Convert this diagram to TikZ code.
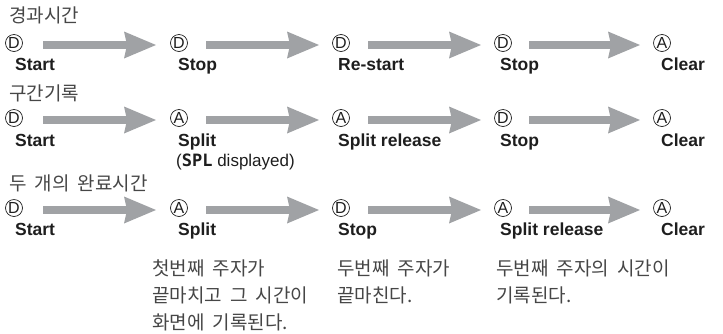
\documentclass[tikz,border=0pt]{standalone}
\usepackage{fontspec}
\setmainfont{Liberation Sans}
\newfontfamily\kr{Noto Sans CJK KR}
\newfontfamily\lcd{DejaVu Sans Mono}
\usetikzlibrary{arrows.meta}
\definecolor{arrgray}{RGB}{160,162,165}
\definecolor{txtgray}{RGB}{70,70,70}
\definecolor{lblblack}{RGB}{30,30,30}
\newcommand\krwide{\spaceskip=8pt\relax}
\begin{document}
\begin{tikzpicture}[x=1pt,y=1pt,
  state/.style={circle,draw=lblblack,line width=0.7pt,inner sep=0pt,minimum size=17pt,
    font=\fontsize{16}{16}\selectfont,text=lblblack},
  lbl/.style={anchor=base west,inner sep=0pt,font=\bfseries\fontsize{17.5}{17.5}\selectfont,text=lblblack},
  sub/.style={anchor=base west,inner sep=0pt,font=\fontsize{17}{17}\selectfont,text=lblblack},
  head/.style={anchor=base west,inner sep=0pt,font=\kr\fontsize{19}{19}\selectfont,
    execute at begin node=\krwide,text=txtgray},
  flow/.style={draw=arrgray,line width=7.5pt,-{Stealth[length=32pt,width=27pt,inset=3pt,line width=0pt]}}
]
\useasboundingbox (0,0) rectangle (723,-333);

% Row 1
\node[head] (h1) at (9,-22) {경과시간};
\node[state] (a1) at (14,-43) {D};
\node[state] (a2) at (179,-43) {D};
\node[state] (a3) at (341,-43) {D};
\node[state] (a4) at (503,-43) {D};
\node[state] (a5) at (662,-43) {A};
\node[lbl] (la1) at (15,-70) {Start};
\node[lbl] (la2) at (178,-70) {Stop};
\node[lbl] (la3) at (338,-70) {Re-start};
\node[lbl] (la4) at (500,-70) {Stop};
\node[lbl] (la5) at (661,-70) {Clear};
\draw[flow] ([xshift=29pt,yshift=-2pt]a1.center) -- ([xshift=-23pt,yshift=-2pt]a2.center);
\draw[flow] ([xshift=27pt,yshift=-2pt]a2.center) -- ([xshift=-22pt,yshift=-2pt]a3.center);
\draw[flow] ([xshift=27pt,yshift=-2pt]a3.center) -- ([xshift=-22pt,yshift=-2pt]a4.center);
\draw[flow] ([xshift=26pt,yshift=-2pt]a4.center) -- ([xshift=-22pt,yshift=-2pt]a5.center);

% Row 2
\node[head] (h2) at (9,-100) {구간기록};
\node[state] (b1) at (14,-118) {D};
\node[state] (b2) at (179,-118) {A};
\node[state] (b3) at (341,-118) {A};
\node[state] (b4) at (503,-118) {D};
\node[state] (b5) at (662,-118) {A};
\node[lbl] (lb1) at (15,-146) {Start};
\node[lbl] (lb2) at (178,-146) {Split};
\node[lbl] (lb3) at (338,-146) {Split release};
\node[lbl] (lb4) at (500,-146) {Stop};
\node[lbl] (lb5) at (661,-146) {Clear};
\node[sub] (sb2) at (176,-166) {({\lcd\bfseries SPL} displayed)};
\draw[flow] ([xshift=29pt,yshift=-2pt]b1.center) -- ([xshift=-23pt,yshift=-2pt]b2.center);
\draw[flow] ([xshift=27pt,yshift=-2pt]b2.center) -- ([xshift=-22pt,yshift=-2pt]b3.center);
\draw[flow] ([xshift=27pt,yshift=-2pt]b3.center) -- ([xshift=-22pt,yshift=-2pt]b4.center);
\draw[flow] ([xshift=26pt,yshift=-2pt]b4.center) -- ([xshift=-22pt,yshift=-2pt]b5.center);

% Row 3
\node[head] (h3) at (9,-190) {두 개의 완료시간};
\node[state] (c1) at (14,-208) {D};
\node[state] (c2) at (179,-208) {A};
\node[state] (c3) at (341,-208) {D};
\node[state] (c4) at (503,-208) {A};
\node[state] (c5) at (662,-208) {A};
\node[lbl] (lc1) at (15,-235) {Start};
\node[lbl] (lc2) at (178,-235) {Split};
\node[lbl] (lc3) at (338,-235) {Stop};
\node[lbl] (lc4) at (500,-235) {Split release};
\node[lbl] (lc5) at (661,-235) {Clear};
\draw[flow] ([xshift=29pt,yshift=-2pt]c1.center) -- ([xshift=-23pt,yshift=-2pt]c2.center);
\draw[flow] ([xshift=27pt,yshift=-2pt]c2.center) -- ([xshift=-22pt,yshift=-2pt]c3.center);
\draw[flow] ([xshift=27pt,yshift=-2pt]c3.center) -- ([xshift=-22pt,yshift=-2pt]c4.center);
\draw[flow] ([xshift=26pt,yshift=-2pt]c4.center) -- ([xshift=-22pt,yshift=-2pt]c5.center);

% Notes
\node[head] (n1a) at (152,-275) {첫번째 주자가};
\node[head] (n1b) at (152,-302) {끝마치고 그 시간이};
\node[head] (n1c) at (152,-329) {화면에 기록된다.};
\node[head] (n2a) at (337,-275) {두번째 주자가};
\node[head] (n2b) at (337,-302) {끝마친다.};
\node[head] (n3a) at (496,-275) {두번째 주자의 시간이};
\node[head] (n3b) at (496,-302) {기록된다.};
\end{tikzpicture}
\end{document}
